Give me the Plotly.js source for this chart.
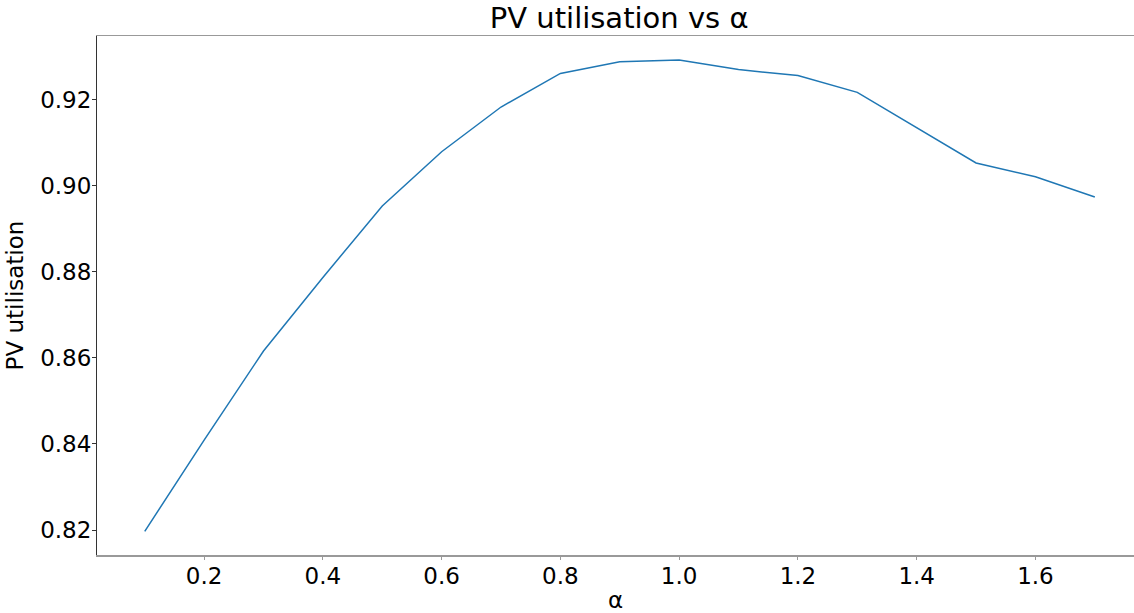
<!DOCTYPE html>
<html>
<head>
<meta charset="utf-8">
<script src="https://cdn.plot.ly/plotly-3.0.1.min.js"></script>
<style>html,body{margin:0;padding:0;background:#fff;overflow:hidden}</style>
</head>
<body>
<div id="chart" style="width:1134px;height:613px"></div>
<script>
const alpha = [0.1, 0.2, 0.3, 0.4, 0.5, 0.6, 0.7, 0.8, 0.9, 1.0, 1.1, 1.2, 1.3, 1.4, 1.5, 1.6, 1.7];
const pvUtilisation = [0.8197, 0.8409, 0.8616, 0.8787, 0.8953, 0.9079, 0.9183, 0.9261, 0.9288, 0.9292, 0.9270, 0.9256, 0.9217, 0.9135, 0.9053, 0.9021, 0.8974];
const xTicks = [0.2, 0.4, 0.6, 0.8, 1.0, 1.2, 1.4, 1.6];
const xTickText = ['0.2', '0.4', '0.6', '0.8', '1.0', '1.2', '1.4', '1.6'];
const yTicks = [0.82, 0.84, 0.86, 0.88, 0.90, 0.92];
const yTickText = ['0.82', '0.84', '0.86', '0.88', '0.90', '0.92'];

const font = 'DejaVu Sans, sans-serif';
const xRange = [0.0196, 1.766];
const yRange = [0.8142, 0.9348];
const trace = {
  x: alpha, y: pvUtilisation, type: 'scatter', mode: 'lines',
  line: {color: '#1f77b4', width: 1.5}, hoverinfo: 'skip'
};
const tickTrace = {
  x: alpha, y: pvUtilisation, type: 'scatter', mode: 'lines',
  xaxis: 'x2', yaxis: 'y2', line: {color: 'rgba(0,0,0,0)', width: 0}, hoverinfo: 'skip'
};
const layout = {
  width: 1134, height: 613,
  margin: {l: 97, r: 0, t: 36, b: 58},
  paper_bgcolor: '#fff', plot_bgcolor: '#fff',
  showlegend: false,
  font: {family: font, color: '#000'},
  title: {text: 'PV utilisation vs α', font: {family: font, size: 29, color: '#000'},
          x: 0.546, xanchor: 'center', y: 0.988, yanchor: 'top'},
  xaxis: {
    range: xRange, tickvals: xTicks, ticktext: xTickText,
    showgrid: false, zeroline: false, showline: true, mirror: true,
    linecolor: '#999', linewidth: 1.5,
    ticks: '', ticklabelstandoff: 0,
    tickfont: {family: font, size: 23, color: '#000'},
    title: {text: 'α', font: {family: font, size: 23, color: '#000'}, standoff: 8}
  },
  yaxis: {
    range: yRange, tickvals: yTicks, ticktext: yTickText,
    showgrid: false, zeroline: false, showline: true, mirror: false,
    linecolor: '#333', linewidth: 1,
    ticks: '', ticklabelstandoff: 0,
    tickfont: {family: font, size: 23, color: '#000'},
    title: {text: 'PV utilisation', font: {family: font, size: 23, color: '#000'}, standoff: 10}
  },
  xaxis2: {
    overlaying: 'x', side: 'bottom', anchor: 'y2', range: xRange, tickvals: xTicks,
    showticklabels: false, showgrid: false, zeroline: false, showline: false,
    ticks: 'outside', ticklen: 4, tickcolor: '#999', tickwidth: 1
  },
  yaxis2: {
    overlaying: 'y', side: 'left', anchor: 'x2', range: yRange, tickvals: yTicks,
    showticklabels: false, showgrid: false, zeroline: false, showline: false,
    ticks: 'outside', ticklen: 4, tickcolor: '#333', tickwidth: 1
  }
};
Plotly.newPlot('chart', [trace, tickTrace], layout, {staticPlot: true, displayModeBar: false});
</script>
</body>
</html>
